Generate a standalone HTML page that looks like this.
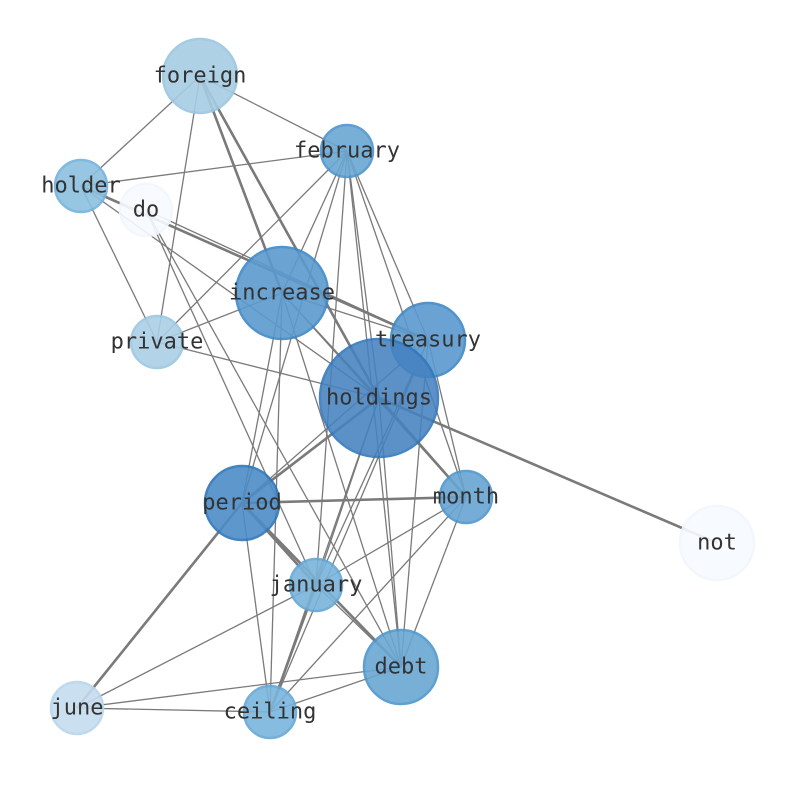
<!DOCTYPE html>
<html><head><meta charset="utf-8"><style>html,body{margin:0;padding:0;background:#fff}svg{display:block}</style></head>
<body>
<svg width="794" height="790" viewBox="0 0 794 790" xmlns="http://www.w3.org/2000/svg">
<g stroke="#7a7a7a" stroke-width="1.3" fill="none">
<line x1="200" y1="76" x2="81" y2="186"/>
<line x1="200" y1="76" x2="347" y2="151"/>
<line x1="200" y1="76" x2="157" y2="342"/>
<line x1="347" y1="151" x2="81" y2="186"/>
<line x1="347" y1="151" x2="157" y2="342"/>
<line x1="347" y1="151" x2="242" y2="503"/>
<line x1="347" y1="151" x2="282" y2="293"/>
<line x1="347" y1="151" x2="316" y2="585"/>
<line x1="347" y1="151" x2="379" y2="398"/>
<line x1="347" y1="151" x2="428" y2="340"/>
<line x1="347" y1="151" x2="466" y2="497"/>
<line x1="347" y1="151" x2="401" y2="667"/>
<line x1="81" y1="186" x2="157" y2="342"/>
<line x1="81" y1="186" x2="379" y2="398"/>
<line x1="146" y1="210" x2="428" y2="340"/>
<line x1="146" y1="210" x2="316" y2="585"/>
<line x1="146" y1="210" x2="401" y2="667"/>
<line x1="157" y1="342" x2="282" y2="293"/>
<line x1="157" y1="342" x2="379" y2="398"/>
<line x1="282" y1="293" x2="428" y2="340"/>
<line x1="282" y1="293" x2="379" y2="398"/>
<line x1="282" y1="293" x2="466" y2="497"/>
<line x1="282" y1="293" x2="242" y2="503"/>
<line x1="282" y1="293" x2="270" y2="712"/>
<line x1="282" y1="293" x2="401" y2="667"/>
<line x1="428" y1="340" x2="242" y2="503"/>
<line x1="428" y1="340" x2="316" y2="585"/>
<line x1="428" y1="340" x2="270" y2="712"/>
<line x1="428" y1="340" x2="466" y2="497"/>
<line x1="428" y1="340" x2="401" y2="667"/>
<line x1="379" y1="398" x2="316" y2="585"/>
<line x1="379" y1="398" x2="270" y2="712"/>
<line x1="379" y1="398" x2="401" y2="667"/>
<line x1="242" y1="503" x2="270" y2="712"/>
<line x1="466" y1="497" x2="316" y2="585"/>
<line x1="466" y1="497" x2="270" y2="712"/>
<line x1="466" y1="497" x2="401" y2="667"/>
<line x1="316" y1="585" x2="77" y2="708"/>
<line x1="316" y1="585" x2="270" y2="712"/>
<line x1="316" y1="585" x2="401" y2="667"/>
<line x1="77" y1="708" x2="270" y2="712"/>
<line x1="77" y1="708" x2="401" y2="667"/>
<line x1="270" y1="712" x2="401" y2="667"/>
</g>
<g stroke="#7a7a7a" stroke-width="2.6" fill="none">
<line x1="200" y1="76" x2="282" y2="293"/>
<line x1="200" y1="76" x2="379" y2="398"/>
<line x1="81" y1="186" x2="428" y2="340"/>
<line x1="379" y1="398" x2="717" y2="543"/>
<line x1="379" y1="398" x2="466" y2="497"/>
<line x1="379" y1="398" x2="242" y2="503"/>
<line x1="242" y1="503" x2="466" y2="497"/>
<line x1="242" y1="503" x2="316" y2="585"/>
<line x1="242" y1="503" x2="401" y2="667"/>
<line x1="242" y1="503" x2="77" y2="708"/>
<line x1="316" y1="585" x2="270" y2="712"/>
</g>
<g stroke-width="2.5">
<circle cx="200" cy="76" r="37" fill="#a6cde4" stroke="#9ac6e2" opacity="0.9"/>
<circle cx="347" cy="151" r="26" fill="#6aa7d3" stroke="#4d94cc" opacity="0.9"/>
<circle cx="81" cy="186" r="26" fill="#8cc0df" stroke="#73b2dc" opacity="0.9"/>
<circle cx="146" cy="210" r="26" fill="#f7fbff" stroke="#f1f7fd" opacity="0.9"/>
<circle cx="282" cy="293" r="46" fill="#5b9bcf" stroke="#3f88c6" opacity="0.9"/>
<circle cx="157" cy="342" r="26" fill="#abcfe6" stroke="#9cc7e3" opacity="0.9"/>
<circle cx="428" cy="340" r="37" fill="#5a9acf" stroke="#3e87c5" opacity="0.9"/>
<circle cx="379" cy="398" r="59" fill="#4582c0" stroke="#2f76bb" opacity="0.88"/>
<circle cx="242" cy="503" r="37" fill="#4d8cc6" stroke="#2d76bb" opacity="0.9"/>
<circle cx="466" cy="497" r="26" fill="#67a5d3" stroke="#4f96cd" opacity="0.9"/>
<circle cx="717" cy="543" r="37" fill="#f7fbff" stroke="#f1f7fd" opacity="0.9"/>
<circle cx="316" cy="585" r="26" fill="#79b4db" stroke="#62a6d6" opacity="0.9"/>
<circle cx="401" cy="667" r="37" fill="#69a7d3" stroke="#4e96cd" opacity="0.9"/>
<circle cx="77" cy="708" r="26" fill="#c5dcee" stroke="#b8d5ec" opacity="0.9"/>
<circle cx="270" cy="712" r="26" fill="#7ab5dc" stroke="#64a7d7" opacity="0.9"/>
</g>
<g font-family="DejaVu Sans Mono, Liberation Mono, monospace" font-size="22" fill="#333" text-anchor="middle" dominant-baseline="central">
<text x="200" y="76">foreign</text>
<text x="347" y="151">february</text>
<text x="81" y="186">holder</text>
<text x="146" y="210">do</text>
<text x="282" y="293">increase</text>
<text x="157" y="342">private</text>
<text x="428" y="340">treasury</text>
<text x="379" y="398">holdings</text>
<text x="242" y="503">period</text>
<text x="466" y="497">month</text>
<text x="717" y="543">not</text>
<text x="316" y="585">january</text>
<text x="401" y="667">debt</text>
<text x="77" y="708">june</text>
<text x="270" y="712">ceiling</text>
</g>
</svg>
</body></html>
